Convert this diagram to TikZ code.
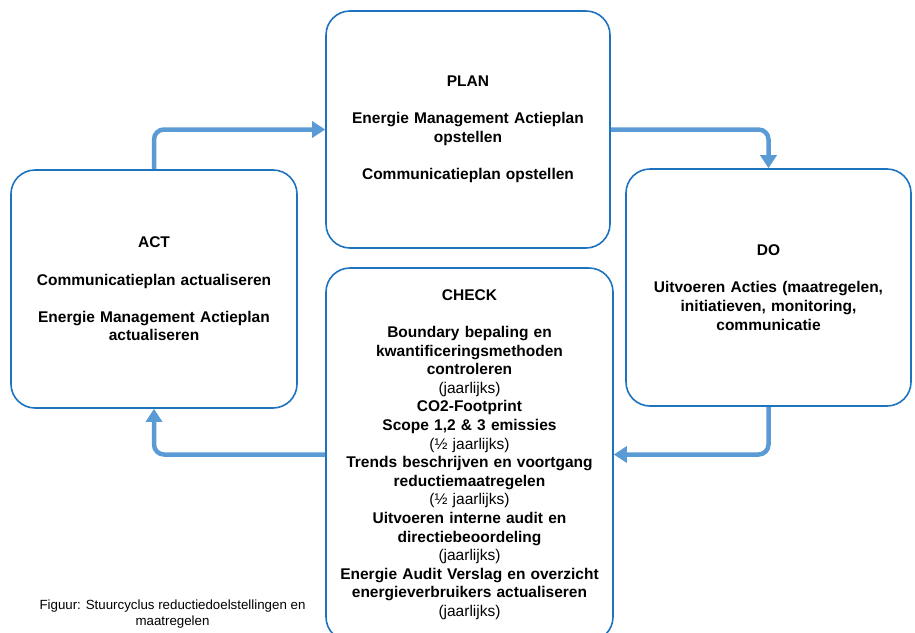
\documentclass[tikz,border=0pt]{standalone}
\usepackage{fontspec}
\setmainfont{Liberation Sans}
\usetikzlibrary{arrows.meta}
\definecolor{boxblue}{RGB}{30,115,190}
\definecolor{arrowblue}{RGB}{91,155,213}
\begin{document}
\begin{tikzpicture}[x=1pt, y=-1pt,
  phase/.style={rectangle, draw=boxblue, line width=1.6pt, rounded corners=24pt, fill=white,
    text width=280pt, align=center, inner sep=0pt,
    font=\fontsize{15.5}{18.6}\selectfont\bfseries},
  flow/.style={draw=arrowblue, line width=4.5pt, rounded corners=10pt,
    -{Triangle[length=13pt, width=16pt]}},
  note/.style={align=center, font=\fontsize{13.3}{16}\selectfont}]
\useasboundingbox (0, 0) rectangle (915, 632);
\clip (0, 0) rectangle (915, 632);
\node at (468, 129.5) (plan) [phase, minimum width=284pt, minimum height=237pt]
  {PLAN\\[18.6pt] Energie Management Actieplan\\ opstellen\\[18.6pt] Communicatieplan opstellen};
\node at (154, 289) (act) [phase, minimum width=286pt, minimum height=238pt]
  {ACT\\[18.6pt] Communicatieplan actualiseren\\[18.6pt] Energie Management Actieplan\\ actualiseren};
\node at (768.5, 287.5) (do) [phase, minimum width=285pt, minimum height=237pt]
  {DO\\[18.6pt] Uitvoeren Acties (maatregelen,\\ initiatieven, monitoring,\\ communicatie};
\node at (469.5, 454.5) (check) [phase, minimum width=287pt, minimum height=373pt]
  {CHECK\\[18.6pt] Boundary bepaling en\\ kwantificeringsmethoden\\ controleren\\
   {\mdseries (jaarlijks)}\\ CO2-Footprint\\ Scope 1,2 \& 3 emissies\\
   {\mdseries (\textonehalf{} jaarlijks)}\\ Trends beschrijven en voortgang\\ reductiemaatregelen\\
   {\mdseries (\textonehalf{} jaarlijks)}\\ Uitvoeren interne audit en\\ directiebeoordeling\\
   {\mdseries (jaarlijks)}\\ Energie Audit Verslag en overzicht\\ energieverbruikers actualiseren\\
   {\mdseries (jaarlijks)}};
\node at (172.5, 614) (caption) [note] {Figuur: Stuurcyclus reductiedoelstellingen en\\ maatregelen};
\draw [flow] (act.north) |- (plan.west);
\draw [flow] (plan.east) -| (do.north);
\draw [flow] (do.south) |- (check.east);
\draw [flow] (check.west) -| (act.south);
\end{tikzpicture}
\end{document}
